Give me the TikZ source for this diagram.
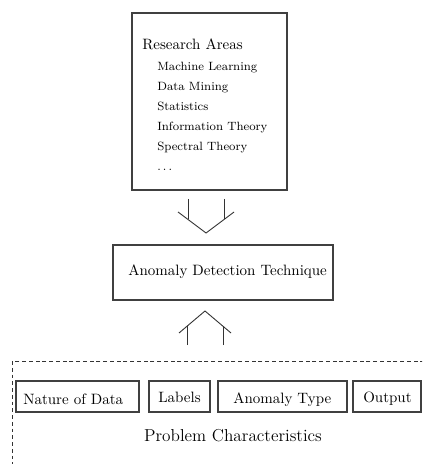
\documentclass[tikz,border=0pt]{standalone}
\begin{document}
\begin{tikzpicture}[x=0.6667pt,y=-0.6667pt,
  box/.style={draw=black!75, line width=0.75pt, inner sep=0pt},
  ln/.style={draw=black!80, line width=0.6pt},
  txt/.style={anchor=base west, inner sep=0pt},
  item/.style={anchor=base west, inner sep=0pt, font=\footnotesize},
  dashbox/.style={draw=black!80, line width=0.6pt, dash pattern=on 2.6pt off 1.9pt}]
\useasboundingbox (0,0) rectangle (422,464);
\clip (0,0) rectangle (422,464);

% Research areas box
\node[box, minimum width=103.3pt, minimum height=118pt] (ra) at (209.5,101.5) {};
\node[txt] (rat) at (142,50) {Research Areas};
\node[item] (ml) at (157,71) {Machine Learning};
\node[item] (dm) at (157,91) {Data Mining};
\node[item] (st) at (157,111) {Statistics};
\node[item] (it) at (157,131) {Information Theory};
\node[item] (sp) at (157,151) {Spectral Theory};
\node[item] (dt) at (157,171) {.\kern1.4pt.\kern1.4pt.};

% down arrow
\coordinate (d1) at (188,199); \coordinate (d2) at (224,199);
\coordinate (d1b) at (188,219.5); \coordinate (d2b) at (224,219.5);
\coordinate (dl) at (178,212); \coordinate (dv) at (206,233); \coordinate (dr) at (234,212);
\draw[ln] (d1) -- (d1b);
\draw[ln] (d2) -- (d2b);
\draw[ln] (dl) -- (dv) -- (dr);

% technique box
\node[box, minimum width=146.7pt, minimum height=36.7pt] (adt) at (223,272.5) {};
\node[txt] (adtt) at (128,275) {Anomaly Detection Technique};

% up arrow
\coordinate (ul) at (179,333); \coordinate (uv) at (205,311); \coordinate (ur) at (231,333);
\coordinate (u1) at (187,345); \coordinate (u2) at (223,345);
\coordinate (u1t) at (187,326.2); \coordinate (u2t) at (223,326.2);
\draw[ln] (ul) -- (uv) -- (ur);
\draw[ln] (u1) -- (u1t);
\draw[ln] (u2) -- (u2t);

% problem characteristics
\draw[dashbox] (12,361) rectangle (440,480);
\node[box, minimum width=82pt, minimum height=20.7pt] (nd) at (77.5,396.5) {};
\node[txt] (ndt) at (23,404) {Nature of Data};
\node[box, minimum width=40.7pt, minimum height=20.7pt] (lb) at (179.5,396.5) {};
\node[txt] (lbt) at (158,402) {Labels};
\node[box, minimum width=86pt, minimum height=20.7pt] (at) at (282.5,396.5) {};
\node[txt] (att) at (233,403) {Anomaly Type};
\node[box, minimum width=45.3pt, minimum height=20.7pt] (op) at (387,396.5) {};
\node[txt] (opt) at (363,402.5) {Output};
\node[anchor=base, inner sep=0pt, font=\fontsize{11.5}{14}\selectfont] (pc) at (233,441) {Problem Characteristics};
\end{tikzpicture}
\end{document}
